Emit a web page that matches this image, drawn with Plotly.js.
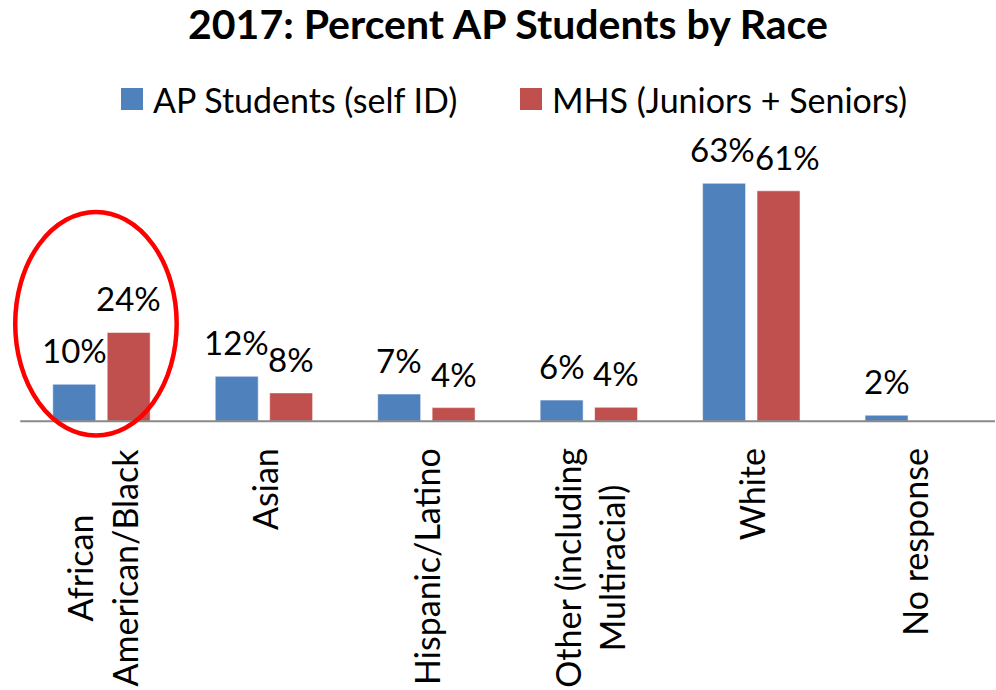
<!DOCTYPE html>
<html>
<head>
<meta charset="utf-8">
<script src="https://cdn.plot.ly/plotly-3.0.1.min.js"></script>
<style>html,body{margin:0;padding:0;background:#fff;}#chart{width:996px;height:690px;}</style>
</head>
<body>
<div id="chart"></div>
<script>
// ---- data ----
const categories = ["African American/Black", "Asian", "Hispanic/Latino", "Other (including Multiracial)", "White", "No response"];
const categoryLabels = ["African<br>American/Black", "Asian", "Hispanic/Latino", "Other (including<br>Multiracial)", "White", "No response"];
const apStudents = [9.8, 11.9, 7.2, 5.6, 63.0, 1.6];
const mhsStudents = [23.5, 7.5, 3.6, 3.7, 61.0, null];
const seriesNames = ["AP Students (self ID)", "MHS (Juniors + Seniors)"];
const titleText = "2017: Percent AP Students by Race";

// ---- style ----
const FONT = "Lato, 'Liberation Sans', sans-serif";
const colors = ["#4F81BD", "#C0504D"];
const W = 996, H = 690;
const M = {l: 4, r: 1, t: 150, b: 248};
const BARGAP = 0.33, GROUPGAP = 0.21;
const xRange = [-0.6, 5.5], yRange = [-5.5, 71.8];
// small horizontal nudges (px) of data labels to avoid collisions, per series
const labelNudge = [[0, 0, 0, 0, -2, 0], [0, 0, 0, 0, 9, 0]];

const plotW = W - M.l - M.r, plotH = H - M.t - M.b;
const pxX = px => (px - M.l) / plotW;          // pixel -> paper x
const pxY = py => (H - M.b - py) / plotH;      // pixel -> paper y

const traces = [apStudents, mhsStudents].map((vals, k) => ({
  type: "bar",
  name: seriesNames[k],
  x: categories,
  y: vals,
  marker: {color: colors[k], line: {color: "rgba(255,255,255,0.55)", width: 1}},
  hoverinfo: "x+y",
  showlegend: false
}));

const slot = (1 - BARGAP) / 2;
const annotations = [];
// data labels
[apStudents, mhsStudents].forEach((vals, k) => {
  vals.forEach((v, i) => {
    if (v === null || v === undefined) return;
    annotations.push({
      x: i + (k === 0 ? -slot / 2 : slot / 2), xref: "x",
      y: v, yref: "y", yanchor: "bottom", xanchor: "center",
      yshift: 12, xshift: labelNudge[k][i], showarrow: false,
      text: Math.round(v) + "%",
      font: {family: FONT, size: 33, color: "#000"}
    });
  });
});
// category labels
categoryLabels.forEach((lab, i) => {
  annotations.push({
    x: i, xref: "x", y: pxY(446), yref: "paper",
    xanchor: "center", yanchor: "top", textangle: -90, align: "center",
    showarrow: false, text: lab,
    font: {family: FONT, size: 34, color: "#000"}
  });
});
// legend text
const legendItems = [{sq: 121, tx: 151}, {sq: 520, tx: 550}];
legendItems.forEach((it, k) => {
  annotations.push({
    x: pxX(it.tx), xref: "paper", y: pxY(99), yref: "paper",
    xanchor: "left", yanchor: "middle", showarrow: false,
    text: seriesNames[k], font: {family: FONT, size: 34, color: "#000"}
  });
});

const shapes = [
  // baseline
  {type: "line", xref: "x", yref: "y", x0: -0.5, x1: 5.5, y0: 0, y1: 0,
   line: {color: "#898989", width: 2}, layer: "above"},
  // highlight ellipse
  {type: "circle", xref: "x", yref: "y", x0: -0.531, x1: 0.463, y0: -3.8, y1: 55.4,
   line: {color: "#FF0000", width: 4.5}, layer: "above"}
];
legendItems.forEach((it, k) => {
  shapes.push({type: "rect", xref: "paper", yref: "paper",
    x0: pxX(it.sq), x1: pxX(it.sq + 22), y0: pxY(110), y1: pxY(88),
    fillcolor: colors[k], line: {width: 0}});
});

const layout = {
  width: W, height: H,
  margin: M,
  paper_bgcolor: "#fff", plot_bgcolor: "#fff",
  title: {text: "<b>" + titleText + "</b>", x: pxX(508), xref: "paper", xanchor: "center",
          y: 1 - 25 / H, yanchor: "middle", yref: "container",
          font: {family: FONT, size: 41, color: "#000"}},
  barmode: "group", bargap: BARGAP, bargroupgap: GROUPGAP,
  showlegend: false,
  xaxis: {type: "category", range: xRange, showticklabels: false, showgrid: false,
          zeroline: false, showline: false, ticks: "", fixedrange: true},
  yaxis: {range: yRange, showticklabels: false, showgrid: false, zeroline: false,
          showline: false, ticks: "", fixedrange: true},
  annotations: annotations,
  shapes: shapes,
  font: {family: FONT, color: "#000"}
};

Plotly.newPlot("chart", traces, layout, {displayModeBar: false, staticPlot: true});
</script>
</body>
</html>
